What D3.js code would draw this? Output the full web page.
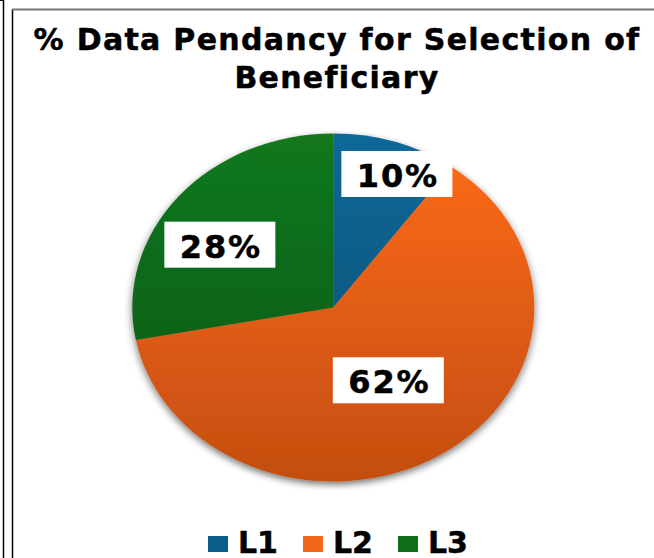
<!DOCTYPE html>
<html>
<head>
<meta charset="utf-8">
<script src="https://cdn.jsdelivr.net/npm/d3@7"></script>
<style>
  html, body { margin: 0; padding: 0; background: #fff; }
  svg { display: block; }
  text { font-family: "DejaVu Sans", Verdana, sans-serif; font-weight: bold; fill: #000; stroke: #000; stroke-width: 0.5px; }
</style>
</head>
<body>
<svg id="chart" width="654" height="558"></svg>
<script>
const categories = ["L1", "L2", "L3"];
const values = [10, 62, 28];
const labels = ["10%", "62%", "28%"];
const titleLines = ["% Data Pendancy for Selection of", "Beneficiary"];

const colorTop = ["#0b6898", "#ff6b1a", "#12781e"];
const colorBottom = ["#064d6d", "#c34e10", "#0a5515"];
const legendColor = ["#0a5f8a", "#f2661c", "#0f6e1c"];

const W = 654, H = 558;
const svg = d3.select("#chart");
const defs = svg.append("defs");

// frame
svg.append("line").attr("x1", 3.5).attr("x2", 3.5).attr("y1", 0).attr("y2", H)
  .attr("stroke", "#000").attr("stroke-width", 1.5);
svg.append("line").attr("x1", 0).attr("x2", 3.5).attr("y1", 0.5).attr("y2", 0.5)
  .attr("stroke", "#000").attr("stroke-width", 1);
svg.append("line").attr("x1", 12.5).attr("x2", 12.5).attr("y1", 9).attr("y2", H)
  .attr("stroke", "#000").attr("stroke-width", 1.5);
svg.append("line").attr("x1", 12).attr("x2", W).attr("y1", 9.5).attr("y2", 9.5)
  .attr("stroke", "#777").attr("stroke-width", 2);

// title
const title = svg.append("text").attr("text-anchor", "middle")
  .style("font-size", "30px").style("letter-spacing", "1.3px");
titleLines.forEach((t, i) => {
  title.append("tspan").attr("x", 337).attr("y", 50 + i * 38).text(t);
});

// pie
const cx = 333.3, cy = 307.5, rx = 201, ry = 174;
const pie = d3.pie().sort(null).value(d => d)(values);
const arc = d3.arc().innerRadius(0).outerRadius(rx);

// shadow filter
const f = defs.append("filter").attr("id", "shadow")
  .attr("x", "-20%").attr("y", "-20%").attr("width", "140%").attr("height", "140%");
f.append("feGaussianBlur").attr("in", "SourceAlpha").attr("stdDeviation", 4).attr("result", "b");
f.append("feOffset").attr("in", "b").attr("dx", 0).attr("dy", 4).attr("result", "o");
f.append("feComponentTransfer").attr("in", "o").attr("result", "oa")
  .append("feFuncA").attr("type", "linear").attr("slope", 0.55);
const m = f.append("feMerge");
m.append("feMergeNode").attr("in", "oa");
m.append("feMergeNode").attr("in", "SourceGraphic");

categories.forEach((c, i) => {
  const g = defs.append("linearGradient").attr("id", "grad" + i)
    .attr("gradientUnits", "userSpaceOnUse")
    .attr("x1", 0).attr("x2", 0).attr("y1", -rx).attr("y2", rx);
  g.append("stop").attr("offset", "0%").attr("stop-color", colorTop[i]);
  g.append("stop").attr("offset", "100%").attr("stop-color", colorBottom[i]);
});

const pg = svg.append("g")
  .attr("transform", `translate(${cx},${cy}) scale(1,${ry / rx})`)
  .attr("filter", "url(#shadow)");
pg.selectAll("path").data(pie).join("path")
  .attr("d", arc)
  .attr("fill", (d, i) => `url(#grad${i})`);

// data labels (layout: radius fraction + angle nudge per slice)
const labelR = [0.83, 0.5, 0.67];
const labelDA = [4.4, -0.8, -7.0]; // degrees
const boxW = 111, boxH = 46;
const lg = svg.append("g");
pie.forEach((d, i) => {
  const a = (d.startAngle + d.endAngle) / 2 + labelDA[i] * Math.PI / 180;
  const r = rx * labelR[i];
  const x = cx + r * Math.sin(a);
  const y = cy - r * Math.cos(a) * ry / rx;
  lg.append("rect").attr("x", x - boxW / 2).attr("y", y - boxH / 2)
    .attr("width", boxW).attr("height", boxH).attr("fill", "#fff");
  lg.append("text").attr("x", x + 1).attr("y", y + 13).attr("text-anchor", "middle")
    .style("font-size", "32px").style("letter-spacing", "1.8px").text(labels[i]);
});

// legend
const legX = [208, 303, 398];
const leg = svg.append("g");
categories.forEach((c, i) => {
  leg.append("rect").attr("x", legX[i]).attr("y", 536).attr("width", 20).attr("height", 16)
    .attr("fill", legendColor[i]);
  leg.append("text").attr("x", legX[i] + 30).attr("y", 553).style("font-size", "30px").text(c);
});
</script>
</body>
</html>
